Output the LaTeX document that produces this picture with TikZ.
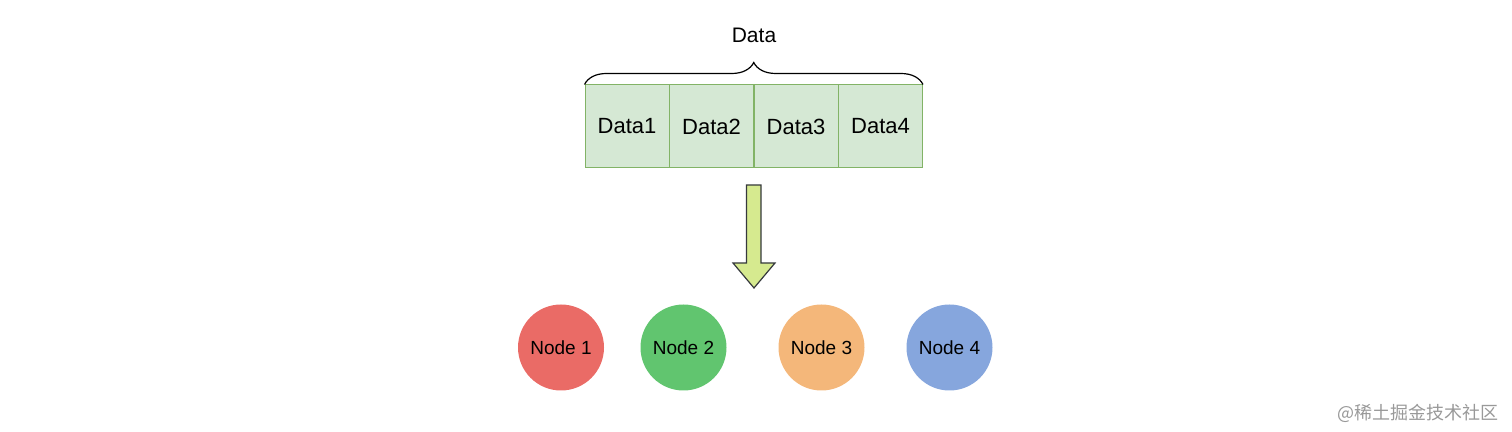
\documentclass[tikz,border=0pt]{standalone}
\usepackage{fontspec}
\setmainfont{Liberation Sans}
\newfontfamily\cjk{Noto Sans CJK SC}
\usetikzlibrary{decorations.pathreplacing}
\definecolor{cellfill}{HTML}{D5E8D4}
\definecolor{celldraw}{HTML}{82B366}
\definecolor{arrowfill}{HTML}{D6EA8F}
\definecolor{arrowdraw}{HTML}{36393D}
\definecolor{nodered}{HTML}{EA6B66}
\definecolor{nodegreen}{HTML}{61C56F}
\definecolor{nodeorange}{HTML}{F4B77A}
\definecolor{nodeblue}{HTML}{86A6DD}
\tikzset{
  cell/.style={draw=celldraw, fill=cellfill, line width=0.5pt, minimum width=42pt,
    minimum height=41.5pt, inner sep=0pt, font=\fontsize{11}{13}\selectfont},
  ball/.style={circle, fill=#1, minimum size=43pt, inner sep=0pt,
    font=\fontsize{9.5}{11}\selectfont}
}
\begin{document}
\begin{tikzpicture}[x=0.5pt, y=-0.5pt]
  \useasboundingbox (0,0) rectangle (1512,432);
  \node[font=\fontsize{10.5}{12}\selectfont] (title) at (754,35) {Data};
  \draw
    (627,126.5) node[cell] (d1) {Data1}
    (711.5,126.5) node[cell] (d2) {Data2}
    (796,126.5) node[cell] (d3) {Data3}
    (880.5,126.5) node[cell] (d4) {Data4};
  \draw[decorate, decoration={brace, amplitude=11pt}, line width=0.6pt]
    (d1.north west) -- (d4.north east);
  \draw[draw=arrowdraw, fill=arrowfill, line width=0.6pt]
    (746.5,185) -- (761,185) -- (761,263) -- (775,263) -- (754,288)
    -- (733,263) -- (746.5,263) -- cycle;
  \draw
    (561,347.5) node[ball=nodered] (n1) {Node 1}
    (683.5,347.5) node[ball=nodegreen] (n2) {Node 2}
    (821.5,347.5) node[ball=nodeorange] (n3) {Node 3}
    (949.5,347.5) node[ball=nodeblue] (n4) {Node 4};
  \node[text=black!40, font=\cjk\fontsize{9}{10}\selectfont, anchor=east] (mark) at (1506,413) {@稀土掘金技术社区};
\end{tikzpicture}
\end{document}
